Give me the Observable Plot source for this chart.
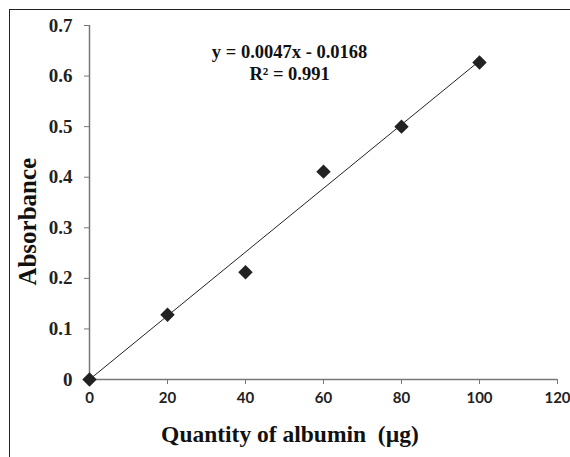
<!DOCTYPE html>
<html><head><meta charset="utf-8">
<script src="https://cdn.jsdelivr.net/npm/d3@7"></script>
<script src="https://cdn.jsdelivr.net/npm/@observablehq/plot@0.6"></script>
<style>
body{margin:0;background:#fff;}
#wrap{position:relative;width:570px;height:457px;overflow:hidden;}
#border{position:absolute;left:9px;top:9px;width:600px;height:500px;border-left:1.5px solid #222;border-top:1.5px solid #222;}
#chart{position:absolute;left:0;top:0;}
</style></head>
<body><div id="wrap"><div id="border"></div><div id="chart"></div></div>
<script>
const quantity = [0, 20, 40, 60, 80, 100];
const absorbance = [0, 0.128, 0.212, 0.411, 0.5, 0.627];
const trendX = [0, 100];
const trendY = [0, 0.63];
const xTicks = [0, 20, 40, 60, 80, 100, 120];
const yTicks = [0, 0.1, 0.2, 0.3, 0.4, 0.5, 0.6, 0.7];
const equation = ["y = 0.0047x - 0.0168", "R² = 0.991"];

const points = quantity.map((q, i) => ({q, a: absorbance[i]}));
const trend = trendX.map((x, i) => ({x, y: trendY[i]}));
const serif = "'Liberation Serif','Times New Roman',serif";

const chart = Plot.plot({
  width: 570, height: 457,
  marginLeft: 89, marginRight: 13, marginTop: 25, marginBottom: 78,
  style: {background: "transparent", overflow: "visible"},
  x: {domain: [0, 120], ticks: xTicks, label: null},
  y: {domain: [0, 0.7], ticks: yTicks, label: null},
  marks: [
    Plot.ruleY([0], {stroke: "#777", strokeWidth: 1.5}),
    Plot.ruleX([0], {stroke: "#777", strokeWidth: 1.5}),
    Plot.axisX({ticks: xTicks, tickSize: 5, stroke: "#777", tickPadding: 8, tickFormat: d => String(d),
      fontFamily: "Lato, sans-serif", fontWeight: "bold", fontSize: 15, fill: "#222"}),
    Plot.axisY({ticks: yTicks, tickSize: 5, stroke: "#777", tickPadding: 12,
      tickFormat: d => d === 0 ? "0" : d.toFixed(1),
      fontFamily: serif, fontWeight: "bold", fontSize: 19, fill: "#222"}),
    Plot.line(trend, {x: "x", y: "y", stroke: "#222", strokeWidth: 1}),
    Plot.dot(points, {x: "q", y: "a", symbol: "diamond2", r: 6.5, fill: "#222", stroke: "none"}),
    Plot.text([equation[0]], {x: 51.3, y: 0.647, text: d => d, fontFamily: serif, fontWeight: "bold", fontSize: 18.5, fill: "#111"}),
    Plot.text([equation[1]], {x: 51.3, y: 0.603, text: d => d, fontFamily: serif, fontWeight: "bold", fontSize: 18.5, fill: "#111"}),
    Plot.text(["Quantity of albumin  (µg)"], {x: 51.4, y: -0.108, text: d => d, fontFamily: serif, fontWeight: "bold", fontSize: 23.5, fill: "#111"}),
    Plot.text(["Absorbance"], {x: -15.8, y: 0.312, rotate: -90, text: d => d, fontFamily: serif, fontWeight: "bold", fontSize: 25, fill: "#111"})
  ]
});
document.getElementById("chart").appendChild(chart);
</script></body></html>
